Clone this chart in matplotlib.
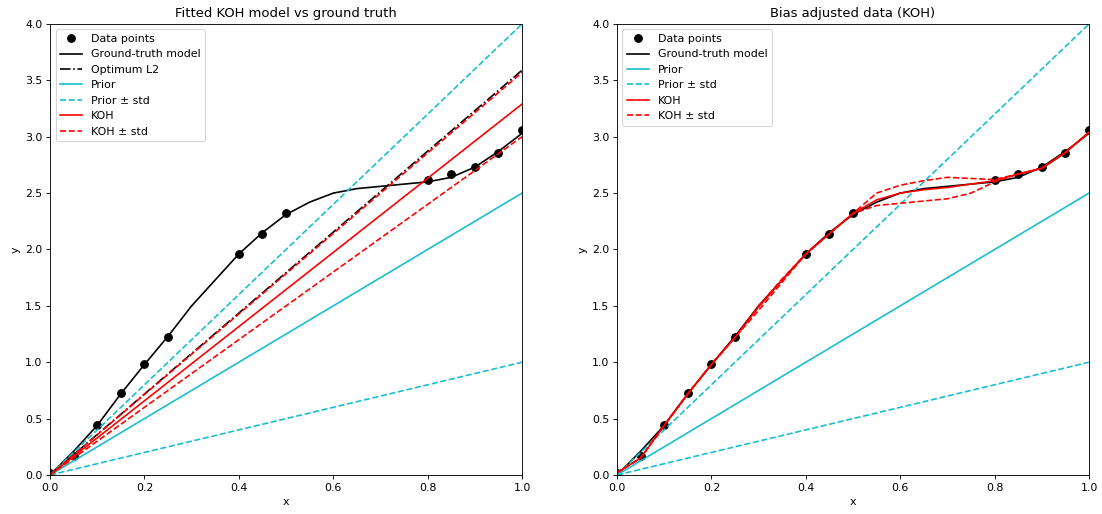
import numpy as np
import matplotlib
matplotlib.use("Agg")
import matplotlib.pyplot as plt

# observed data
x_data = [0.0, 0.05, 0.1, 0.15, 0.2, 0.25, 0.4, 0.45, 0.5, 0.8, 0.85, 0.9, 0.95, 1.0]
y_data = [0.02, 0.17, 0.44, 0.73, 0.98, 1.22, 1.96, 2.14, 2.32, 2.62, 2.67, 2.73, 2.86, 3.06]

# evaluation grid
x_grid = [0.0, 0.05, 0.1, 0.15, 0.2, 0.25, 0.3, 0.35, 0.4, 0.45, 0.5,
          0.55, 0.6, 0.65, 0.7, 0.75, 0.8, 0.85, 0.9, 0.95, 1.0]

# ground-truth model
y_truth = [0.0, 0.21, 0.44, 0.72, 0.98, 1.23, 1.50, 1.73, 1.96, 2.15, 2.31,
           2.42, 2.50, 2.54, 2.56, 2.58, 2.60, 2.64, 2.73, 2.87, 3.03]

# linear model slopes (y = theta * x)
theta_l2 = 3.59
theta_prior = 2.5
theta_prior_lo = 1.0
theta_prior_hi = 4.0
theta_koh = 3.29
theta_koh_lo = 3.0
theta_koh_hi = 3.57

# bias adjusted KOH prediction
koh_mean = [0.02, 0.15, 0.44, 0.72, 0.98, 1.22, 1.49, 1.73, 1.96, 2.14, 2.32,
            2.44, 2.50, 2.53, 2.55, 2.58, 2.61, 2.67, 2.72, 2.86, 3.04]
koh_upper = [0.02, 0.15, 0.44, 0.72, 0.98, 1.22, 1.50, 1.74, 1.96, 2.14, 2.32,
             2.50, 2.57, 2.61, 2.64, 2.63, 2.62, 2.67, 2.72, 2.86, 3.04]
koh_lower = [0.02, 0.15, 0.44, 0.72, 0.98, 1.22, 1.46, 1.71, 1.96, 2.14, 2.32,
             2.39, 2.41, 2.43, 2.45, 2.50, 2.60, 2.67, 2.72, 2.86, 3.04]

x = np.array(x_grid)
cyan = "tab:cyan"
DPI = 79
MS = 7

fig = plt.figure(figsize=(1102 / DPI, 514 / DPI), dpi=DPI)
ax1 = fig.add_axes([0.0454, 0.0759, 0.4283, 0.8774])
ax2 = fig.add_axes([0.5599, 0.0759, 0.4283, 0.8774])

# left: fitted models
ax1.plot(x_data, y_data, "ko", ms=MS, label="Data points")
ax1.plot(x, y_truth, "k-", label="Ground-truth model")
ax1.plot(x, theta_l2 * x, "k-.", label="Optimum L2")
ax1.plot(x, theta_prior * x, color=cyan, label="Prior")
ax1.plot(x, theta_prior_hi * x, "--", color=cyan, label="Prior ± std")
ax1.plot(x, theta_prior_lo * x, "--", color=cyan)
ax1.plot(x, theta_koh * x, "r-", label="KOH")
ax1.plot(x, theta_koh_hi * x, "r--", label="KOH ± std")
ax1.plot(x, theta_koh_lo * x, "r--")
ax1.set_title("Fitted KOH model vs ground truth")

# right: bias adjusted
ax2.plot(x_data, y_data, "ko", ms=MS, label="Data points")
ax2.plot(x, y_truth, "k-", label="Ground-truth model")
ax2.plot(x, theta_prior * x, color=cyan, label="Prior")
ax2.plot(x, theta_prior_hi * x, "--", color=cyan, label="Prior ± std")
ax2.plot(x, theta_prior_lo * x, "--", color=cyan)
ax2.plot(x, koh_mean, "r-", label="KOH")
ax2.plot(x, koh_upper, "r--", label="KOH ± std")
ax2.plot(x, koh_lower, "r--")
ax2.set_title("Bias adjusted data (KOH)")

for ax in (ax1, ax2):
    ax.set_xlim(0, 1)
    ax.set_ylim(0, 4)
    ax.set_xlabel("x")
    ax.set_ylabel("y")
    ax.legend(loc="upper left")

fig.savefig("out.png", dpi=DPI)
